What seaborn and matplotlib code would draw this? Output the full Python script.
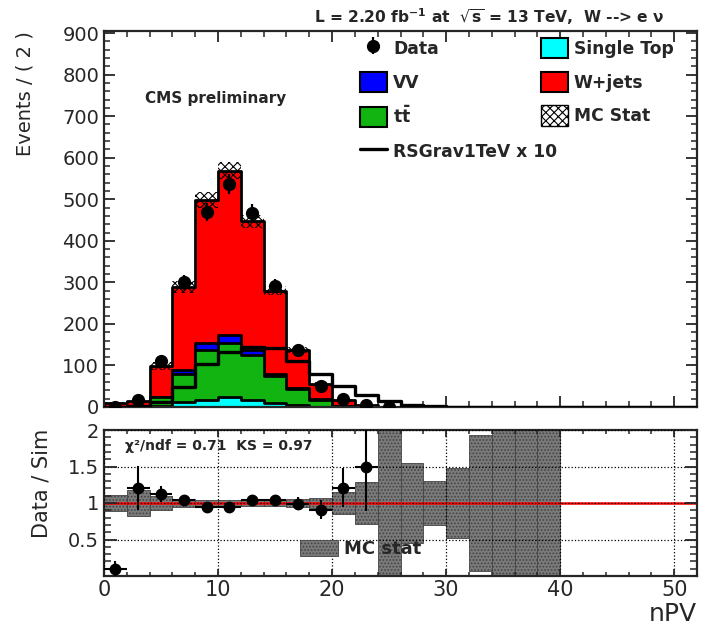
import numpy as np
import pandas as pd
import matplotlib
matplotlib.use('Agg')
import matplotlib.pyplot as plt
from matplotlib.patches import Patch
from matplotlib.lines import Line2D
from matplotlib.ticker import MultipleLocator
import seaborn as sns

# nPV binning (width 2)
bin_edges = np.arange(0, 54, 2)
bin_centers = bin_edges[:-1] + 1

# yields per bin
single_top = [0, 0, 2, 12, 18, 24, 16, 10, 4, 1, 0, 0, 0,
              0, 0, 0, 0, 0, 0, 0, 0, 0, 0, 0, 0, 0]
ttbar = [1, 0.5, 22, 68, 119, 130, 109, 64, 40, 17, 3, 1, 0,
         0, 0, 0, 0, 0, 0, 0, 0, 0, 0, 0, 0, 0]
vv = [0, 0, 1, 10, 17, 20, 13, 6, 1, 0.5, 0, 0, 0,
      0, 0, 0, 0, 0, 0, 0, 0, 0, 0, 0, 0, 0]
wjets = [9, 12.8, 74, 199, 344, 395, 309, 200, 93, 37.5, 13.5, 3, 0.3,
         0.2, 0.2, 0.1, 0.1, 0.05, 0.05, 0.05, 0, 0, 0, 0, 0, 0]
data = [1, 16, 111, 300, 470, 537, 468, 291, 137, 51, 20, 6, 1,
        0, 0, 0, 0, 0, 0, 0, 0, 0, 0, 0, 0, 0]
signal_x10 = [0.5, 3, 12, 48, 104, 133, 145, 141, 111, 80, 51, 29, 14,
              4, 1.5, 1, 1, 0.5, 0.5, 0.5, 0.3, 0.3, 0.2, 0.2, 0.1, 0.1]
# relative MC statistical uncertainty per bin
mc_rel_err = [0.11, 0.18, 0.09, 0.05, 0.04, 0.035, 0.035, 0.04, 0.05, 0.075, 0.15, 0.29, 1.2,
              0.55, 0.30, 0.48, 0.93, 1.5, 1.5, 1.5, 0, 0, 0, 0, 0, 0]

chi2_text = 'χ²/ndf = 0.71  KS = 0.97'

colors = {'st': '#00ffff', 'vv': '#0000ff', 'wj': '#ff0000', 'tt': '#11b411'}

sns.set_style('ticks')
plt.rcParams['font.family'] = ['DejaVu Sans']
plt.rcParams['mathtext.fontset'] = 'dejavusans'
plt.rcParams['hatch.linewidth'] = 0.8
plt.rcParams['xtick.direction'] = 'in'
plt.rcParams['ytick.direction'] = 'in'
plt.rcParams['xtick.top'] = True
plt.rcParams['ytick.right'] = True
plt.rcParams['axes.linewidth'] = 1.6

st = np.array(single_top)
tt = np.array(ttbar)
vv_a = np.array(vv)
wj = np.array(wjets)
dat = np.array(data, dtype=float)
sig = np.array(signal_x10)
err = np.array(mc_rel_err)

# cumulative stack, drawn back to front like a THStack
stack = pd.DataFrame({'nPV': bin_centers})
stack['st'] = st
stack['tt'] = stack['st'] + tt
stack['vv'] = stack['tt'] + vv_a
stack['wj'] = stack['vv'] + wj
stack['sig'] = sig
total = stack['wj'].to_numpy()

fig = plt.figure(figsize=(7.08, 6.27), dpi=100)
W, H = 708, 627
x0, x1 = 104, 697
ax = fig.add_axes([x0 / W, 1 - 407 / H, (x1 - x0) / W, (407 - 31) / H])
rax = fig.add_axes([x0 / W, 1 - 576 / H, (x1 - x0) / W, (576 - 430) / H])

# --- main panel
for col in ['wj', 'vv', 'tt', 'st']:
    sns.histplot(data=stack, x='nPV', weights=col, binwidth=2, binrange=(0, 52),
                 element='step', fill=True, color=colors[col], alpha=1,
                 edgecolor='black', linewidth=2, ax=ax)

ax.bar(bin_centers, 2 * total * err, bottom=total * (1 - err), width=2,
       fill=False, hatch='xxxx', edgecolor='black', linewidth=0, zorder=3)

sns.histplot(data=stack, x='nPV', weights='sig', binwidth=2, binrange=(0, 52),
             element='step', fill=False, color='black', linewidth=2.4, ax=ax, zorder=4)

has_data = dat > 0
data_eb = ax.errorbar(bin_centers[has_data], dat[has_data], yerr=np.sqrt(dat[has_data]),
                      fmt='o', color='black', ms=8.5, lw=1.6, capsize=0, zorder=5)

ax.set_xlim(0, 52)
ax.set_ylim(0, 905)
ax.yaxis.set_major_locator(MultipleLocator(100))
ax.yaxis.set_minor_locator(MultipleLocator(20))
ax.xaxis.set_major_locator(MultipleLocator(10))
ax.xaxis.set_minor_locator(MultipleLocator(2))
ax.tick_params(which='major', length=8, width=1.3, labelsize=14)
ax.tick_params(which='minor', length=4, width=1.1)
ax.tick_params(axis='x', labelbottom=False)
ax.set_xlabel('')
ax.set_ylabel('Events / ( 2 )', fontsize=14, loc='top')
ax.yaxis.set_label_coords((35 - x0) / (x1 - x0), 1.0)

# legend, two fixed columns like the ROOT one
lkw = dict(frameon=False, prop={'weight': 'bold', 'size': 12.3}, handlelength=1.58,
           handleheight=1.46, handletextpad=0.35, labelspacing=0.78, borderpad=0,
           borderaxespad=0, loc='upper left', bbox_transform=fig.transFigure)
col1 = [data_eb,
        Patch(facecolor=colors['vv'], edgecolor='black', linewidth=1.5),
        Patch(facecolor=colors['tt'], edgecolor='black', linewidth=1.5),
        Line2D([], [], color='black', lw=2.4)]
lab1 = ['Data', 'VV', r'$\mathbf{t\bar{t}}$', 'RSGrav1TeV x 10']
col2 = [Patch(facecolor=colors['st'], edgecolor='black', linewidth=1.5),
        Patch(facecolor=colors['wj'], edgecolor='black', linewidth=1.5),
        Patch(facecolor='white', edgecolor='black', hatch='xxxx', linewidth=1.0)]
lab2 = ['Single Top', 'W+jets', 'MC Stat']
leg1 = ax.legend(col1, lab1, bbox_to_anchor=(360 / W, 1 - 38 / H), **lkw)
ax.add_artist(leg1)
ax.legend(col2, lab2, bbox_to_anchor=(541 / W, 1 - 38 / H), **lkw)

fig.text(145 / W, 1 - 99 / H, 'CMS preliminary', fontsize=11, fontweight='bold',
         ha='left', va='center')
fig.text(665 / W, 1 - 17 / H,
         r'L = 2.20 fb$^{\mathbf{-1}}$ at  $\sqrt{\mathbf{s}}$ = 13 TeV,  W --> e ν',
         fontsize=11.2, fontweight='bold', ha='right', va='center')

# --- ratio panel
has_mc = err > 0
rax.bar(bin_centers[has_mc], 2 * err[has_mc], bottom=1 - err[has_mc], width=2,
        color='#7a7a7a', hatch='.....', edgecolor='#444444', linewidth=0.6, zorder=1,
        label='MC stat')
rax.axhline(1, color='red', lw=1.8, zorder=2)

ok = total > 1
ratio = dat[ok] / total[ok]
ratio_err = np.sqrt(dat[ok]) / total[ok]
rax.errorbar(bin_centers[ok], ratio, yerr=ratio_err, xerr=1, fmt='o', color='black',
             ms=7.5, lw=1.5, capsize=0, zorder=4)

rax.set_xlim(0, 52)
rax.set_ylim(0, 2)
rax.set_yticks([0.5, 1, 1.5, 2], labels=['0.5', '1', '1.5', '2'])
rax.yaxis.set_minor_locator(MultipleLocator(0.1))
rax.xaxis.set_major_locator(MultipleLocator(10))
rax.xaxis.set_minor_locator(MultipleLocator(2))
rax.tick_params(axis='y', which='major', length=9, width=1.3, labelsize=14)
rax.tick_params(axis='y', which='minor', length=5, width=1.1)
rax.tick_params(axis='x', which='major', length=5, width=1.3, labelsize=15, pad=3)
rax.tick_params(axis='x', which='minor', length=3, width=1.1)
rax.grid(True, which='major', color='black', linestyle=':', linewidth=0.9, zorder=0)
rax.set_axisbelow(False)
rax.set_ylabel('Data / Sim', fontsize=15, loc='top')
rax.yaxis.set_label_coords((52 - x0) / (x1 - x0), 1.01)
rax.set_xlabel('nPV', fontsize=18, loc='right')
rax.xaxis.label.set_verticalalignment('baseline')
rax.xaxis.set_label_coords(1.0, (576 - 621) / (576 - 430))

rax.text(125 / W, 1 - 446 / H, chi2_text, transform=fig.transFigure, fontsize=10,
         fontweight='bold', ha='left', va='center', zorder=6)
rax.legend(loc='center left', bbox_to_anchor=(300 / W, 1 - 549 / H),
           bbox_transform=fig.transFigure, frameon=False,
           prop={'weight': 'bold', 'size': 13}, handlelength=2.1, handleheight=0.95,
           handletextpad=0.35, borderpad=0, borderaxespad=0)

fig.savefig('out.png', dpi=100)
